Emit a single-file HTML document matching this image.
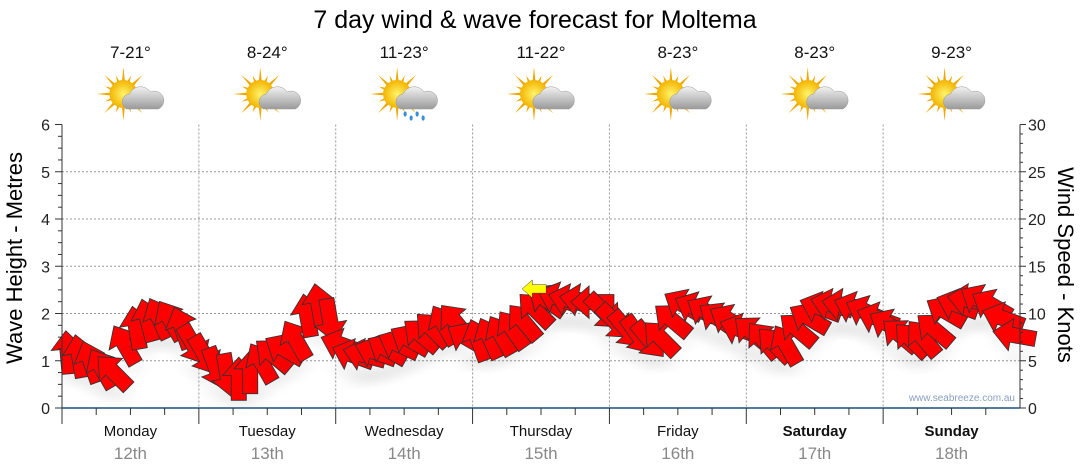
<!DOCTYPE html>
<html><head><meta charset="utf-8"><style>
body{margin:0;background:#fff;}
svg{display:block;font-family:"Liberation Sans",sans-serif;}
</style></head><body>
<svg id="c" width="1080" height="475" viewBox="0 0 1080 475">
<defs>
<filter id="sh" x="-50%" y="-50%" width="200%" height="200%"><feGaussianBlur stdDeviation="6"/></filter>
<radialGradient id="sun" cx="50%" cy="50%" r="50%"><stop offset="0" stop-color="#fff46a"/><stop offset="1" stop-color="#f3b400"/></radialGradient>
<linearGradient id="cl" x1="0" y1="0" x2="0" y2="1"><stop offset="0" stop-color="#f2f2f2"/><stop offset="1" stop-color="#9a9a9a"/></linearGradient>
</defs>
<text x="535" y="28" font-size="25" text-anchor="middle" fill="#000">7 day wind &amp; wave forecast for Moltema</text>
<g id="icons"></g>
<g id="grid"></g>
<g id="marks"></g>
<g id="axes"></g>
<text transform="translate(22,258) rotate(-90)" font-size="22" text-anchor="middle">Wave Height - Metres</text>
<text transform="translate(1058,265) rotate(90)" font-size="22" text-anchor="middle">Wind Speed - Knots</text>
<text x="1015" y="401" font-size="10" text-anchor="end" fill="#8aa0c0">www.seabreeze.com.au</text>
</svg>
<script>
const days=["Monday","Tuesday","Wednesday","Thursday","Friday","Saturday","Sunday"];
const dates=["12th","13th","14th","15th","16th","17th","18th"];
const temps=["7-21°","8-24°","11-23°","11-22°","8-23°","8-23°","9-23°"];
const rainy=[false,false,true,false,false,false,false];
const waveTicks=[0,1,2,3,4,5,6];
const knotTicks=[0,5,10,15,20,25,30];
const windKnots=[5.9,5.5,4.9,4.2,3.8,6.7,8.5,9.3,9.5,9.3,8.5,6.7,
5.6,4.2,3.5,3.1,3.8,4.8,5.6,6.2,7.2,9.8,10.9,9.3,
6.7,5.6,5.6,5.9,6.2,6.7,7.2,7.7,8.3,8.8,9.1,7.4,
7.2,7.4,7.7,8.3,9.1,10.4,11.4,11.6,11.4,11.4,11.2,10.2,
9.1,8.3,7.7,7.2,7.4,9.3,10.9,10.6,10.2,9.5,9.3,8.3,
8.0,7.2,6.7,6.7,8.3,9.5,10.6,10.9,10.9,10.6,10.2,9.5,
8.8,7.7,7.2,7.4,8.3,10.2,10.9,11.4,11.4,10.9,9.5,7.7];
const windDir=[-95,-100,-110,-120,-135,-120,-100,-105,-115,-120,-110,60,
60,70,80,-90,-90,-120,-140,-150,-120,-100,-100,80,
-160,-160,-165,-160,-150,-155,-150,-140,-135,-120,-130,-150,
-110,-115,-120,-125,-130,-135,-145,-160,-165,-170,180,45,
45,50,55,50,-135,-140,-150,-155,-150,-145,-150,-160,
-140,-130,-135,-120,-140,-150,-160,-165,-170,-160,-155,-160,
-150,-140,-135,-130,-140,-150,-160,-170,-150,-150,-160,-170];
const swellPos=[3.45];const swellKnots=[12.6];const swellDir=[180];

const NS="http://www.w3.org/2000/svg";
const X0=62,X1=1020,Y0=408,Y1=124.5;
const dayW=(X1-X0)/7;
const yWave=v=>Y0-(v/6)*(Y0-Y1);
const yKn=v=>Y0-(v/30)*(Y0-Y1);
const xTime=t=>X0+t*dayW;
function el(tag,attrs,parent){const e=document.createElementNS(NS,tag);for(const k in attrs)e.setAttribute(k,attrs[k]);parent.appendChild(e);return e;}
const grid=document.getElementById('grid'),axes=document.getElementById('axes'),marks=document.getElementById('marks'),icons=document.getElementById('icons');

waveTicks.forEach(v=>{
 if(v>0&&v<6){const l=el('line',{x1:X0,x2:X1,y1:yWave(v),y2:yWave(v),stroke:'#999','stroke-dasharray':'2,2','stroke-width':1},grid);
 
 }
 const t=el('text',{x:X0-12,y:yWave(v)+6,'font-size':16,'text-anchor':'end',fill:'#222'},axes);t.textContent=v;
 
 
});
for(let i=0;i<=24;i++){el('line',{x1:X0-(i%4?4:7),x2:X0,y1:yWave(i/4),y2:yWave(i/4),stroke:'#333'},axes);}
knotTicks.forEach(v=>{
 const t=el('text',{x:X1+8,y:yKn(v)+6,'font-size':16,fill:'#222'},axes);t.textContent=v;
 
 
});
for(let i=0;i<=30;i++){el('line',{x1:X1,x2:X1+(i%5?3:6),y1:yKn(i),y2:yKn(i),stroke:'#333'},axes);}
el('line',{x1:X0,x2:X0,y1:Y1,y2:Y0+8,stroke:'#333'},axes);
el('line',{x1:X1,x2:X1,y1:Y1,y2:Y0,stroke:'#333'},axes);
el('line',{x1:X0,x2:X1,y1:Y0,y2:Y0,stroke:'#1f4f78','stroke-width':1.5},axes);
for(let d=0;d<7;d++){
 if(d>0){const l=el('line',{x1:xTime(d),x2:xTime(d),y1:Y1,y2:Y0,stroke:'#999','stroke-dasharray':'2,2'},grid);
 
 }
 for(let q=0;q<4;q++)el('line',{x1:xTime(d+q/4),x2:xTime(d+q/4),y1:Y0,y2:Y0+(q?7:16),stroke:'#333'},axes);
 const cx=xTime(d+0.5);
 const a=el('text',{x:cx,y:436,'font-size':15,'text-anchor':'middle',fill:'#111','font-weight':d>=5?'bold':'normal'},axes);a.textContent=days[d];
 
 
 const b=el('text',{x:cx,y:459,'font-size':17,'text-anchor':'middle',fill:'#888'},axes);b.textContent=dates[d];
 
 
 const tt=el('text',{x:cx,y:58,'font-size':17,'text-anchor':'middle',fill:'#111'},icons);tt.textContent=temps[d];
 
 
 const g=el('g',{transform:`translate(${cx-7},${94})`},icons);
 
 
 for(let r=0;r<16;r++){const ang=r*22.5*Math.PI/180,L=r%2?20:27;
  el('polygon',{points:`${Math.cos(ang)*L},${Math.sin(ang)*L} ${Math.cos(ang+0.15)*11},${Math.sin(ang+0.15)*11} ${Math.cos(ang-0.15)*11},${Math.sin(ang-0.15)*11}`,fill:'#f0a800'},g);}
 el('circle',{cx:0,cy:0,r:14,fill:'url(#sun)'},g);
 el('path',{d:'M3,15 a8,8 0 0 1 3,-15 a12,12 0 0 1 21,-2 a9,9 0 0 1 8,17 z',fill:'url(#cl)',stroke:'#999','stroke-width':0.5},g);
 if(rainy[d]){for(let k=0;k<4;k++)el('ellipse',{cx:8+k*6,cy:20+(k%2)*4,rx:1.6,ry:2.6,fill:'#3a8fd8'},g);}
}
function arrow(cx,cy,deg,fill,scale,name){
 el('ellipse',{cx:cx+4,cy:cy+22,rx:18,ry:6,fill:'#000',opacity:0.05,filter:'url(#sh)'},marks);
 const p=el('polygon',{points:'-20,-7 3,-7 3,-15 20,0 3,15 3,7 -20,7',fill:fill,stroke:'#333','stroke-width':0.8,transform:`translate(${cx},${cy}) rotate(${deg}) scale(${scale})`},marks);
 
 
}
const n=windKnots.length;
for(let i=0;i<n;i++){arrow(xTime((i+0.5)/12),yKn(windKnots[i]),windDir[i],'#ff0000',1.08,'wind-arrow');}
for(let i=0;i<swellPos.length;i++){arrow(xTime(swellPos[i]),yKn(swellKnots[i]),swellDir[i],'#ffff00',0.6,'swell-arrow');}
</script>
</body></html>
